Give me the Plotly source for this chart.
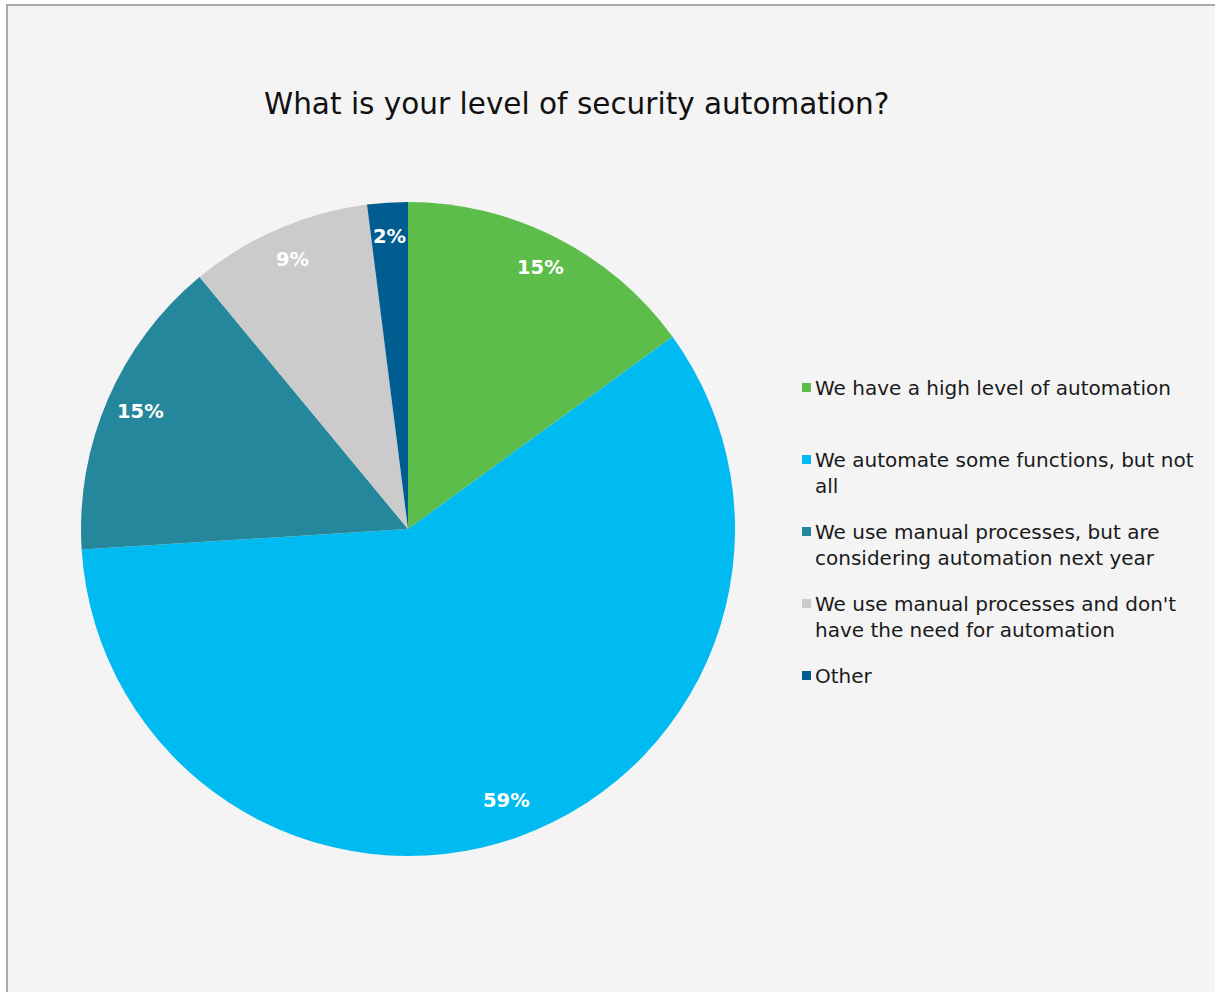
import math
import plotly.graph_objects as go

# Survey responses
labels = [
    "We have a high level of automation",
    "We automate some functions, but not all",
    "We use manual processes, but are considering automation next year",
    "We use manual processes and don't have the need for automation",
    "Other",
]
legend_text = [
    "We have a high level of automation",
    "We automate some functions, but not<br>all",
    "We use manual processes, but are<br>considering automation next year",
    "We use manual processes and don't<br>have the need for automation",
    "Other",
]
values = [15, 59, 15, 9, 2]
colors = ["#5dbd4a", "#00bbf2", "#25879b", "#cbcbcb", "#005d8f"]

W, H = 1215, 992
FONT = "DejaVu Sans"

# pie geometry (pixels)
cx, cy, r = 408, 529, 327
dom_x = [(cx - r) / W, (cx + r) / W]
dom_y = [1 - (cy + r) / H, 1 - (cy - r) / H]

fig = go.Figure()
fig.add_trace(go.Pie(
    labels=labels,
    values=values,
    marker=dict(colors=colors, line=dict(width=0)),
    sort=False,
    direction="clockwise",
    rotation=0,
    textinfo="none",
    hoverinfo="label+percent",
    showlegend=False,
    domain=dict(x=dom_x, y=dom_y),
))

annotations = []
# percentage labels near the rim of each slice
total = sum(values)
cum = 0
for v in values:
    mid = (cum + v / 2) / total * 2 * math.pi
    cum += v
    px = cx + 0.89 * r * math.sin(mid)
    py = cy - 0.89 * r * math.cos(mid) - 2
    annotations.append(dict(
        x=px / W, y=1 - py / H, xref="paper", yref="paper",
        text=f"<b>{v}%</b>", showarrow=False,
        font=dict(family=FONT, size=19.5, color="white"),
        xanchor="center", yanchor="middle",
    ))

# legend
shapes = []
leg_x, leg_y0, leg_step = 802, 387, 72
for i, (txt, col) in enumerate(zip(legend_text, colors)):
    yc = leg_y0 + i * leg_step
    shapes.append(dict(
        type="rect", xref="paper", yref="paper",
        x0=leg_x / W, x1=(leg_x + 9) / W,
        y0=1 - (yc + 5) / H, y1=1 - (yc - 4) / H,
        fillcolor=col, line=dict(width=0),
    ))
    annotations.append(dict(
        x=(leg_x + 11) / W, y=1 - (yc - 13) / H, xref="paper", yref="paper",
        text=txt, showarrow=False, align="left",
        font=dict(family=FONT, size=20, color="#1a1a1a"),
        xanchor="left", yanchor="top",
    ))

# title
annotations.append(dict(
    x=576 / W, y=1 - 104 / H, xref="paper", yref="paper",
    text="What is your level of security automation?", showarrow=False,
    font=dict(family=FONT, size=29.5, color="#111111"),
    xanchor="center", yanchor="middle",
))

# panel background and frame
shapes.insert(0, dict(
    type="rect", xref="paper", yref="paper", layer="below",
    x0=8 / W, x1=1, y0=0, y1=1 - 6 / H,
    fillcolor="#f4f4f4", line=dict(width=0),
))
shapes.append(dict(
    type="path", xref="paper", yref="paper",
    path=f"M {7/W},0 L {7/W},{1-5/H} L 1,{1-5/H}",
    line=dict(color="#a9a9a9", width=2),
))

fig.update_layout(
    width=W, height=H,
    margin=dict(l=0, r=0, t=0, b=0),
    paper_bgcolor="white",
    plot_bgcolor="white",
    shapes=shapes,
    annotations=annotations,
)

fig.write_html("out.html")
